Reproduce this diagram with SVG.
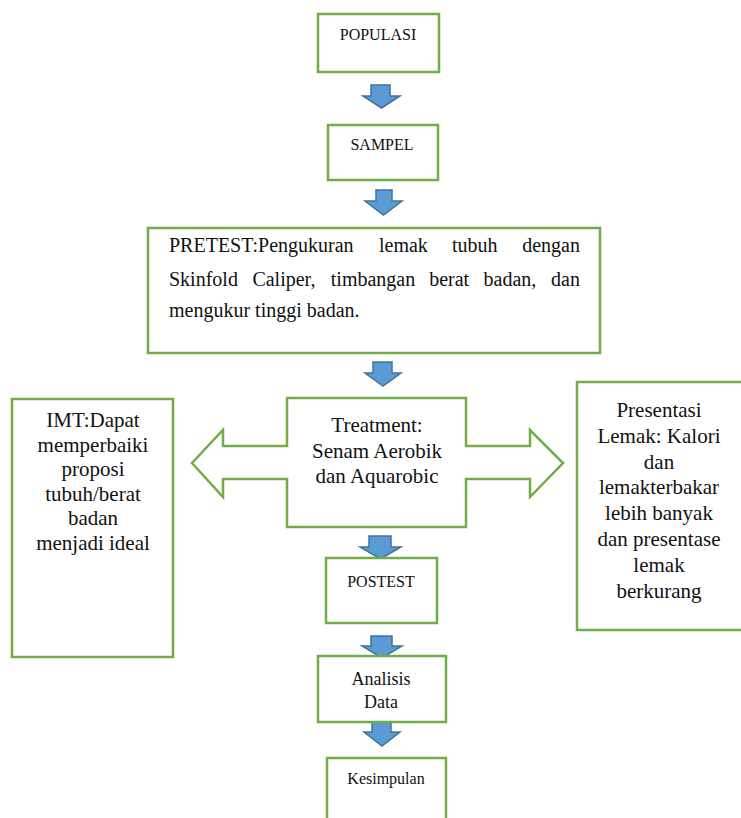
<svg xmlns="http://www.w3.org/2000/svg" width="741" height="818" viewBox="0 0 741 818">
<style>
.box{fill:#fff;stroke:#70AD47;stroke-width:2.5}
.arr{fill:#5B9BD5;stroke:#41719C;stroke-width:1.5;stroke-linejoin:miter}
text{font-family:'Liberation Serif','Times New Roman','DejaVu Serif',serif;fill:#111}
.c{text-anchor:middle}
.s{font-size:16px}
.m{font-size:18px}
.p{font-size:20px}
.l{font-size:21px}
</style>
<rect width="741" height="818" fill="#fff"/>
<g id="connectors">
<path class="arr" d="M371,85 H390 V96 H400 L381.5,108 L363,96 H371 Z"/>
<path class="arr" d="M376,190 H392 V201 H402 L383.5,215 L365,201 H376 Z"/>
<path class="arr" d="M373,362 H392 V373 H401 L383,386 L365,373 H373 Z"/>
<path class="arr" d="M369,536 H391 V547 H401 L380.5,559 L360,547 H369 Z"/>
<path class="arr" d="M371,636 H392 V646 H402 L382,658 L362,646 H371 Z"/>
<path class="arr" d="M372,722 H391 V732 H400 L382,746 L364,732 H372 Z"/>
</g>
<g id="populasi">
<rect class="box" x="318" y="14" width="121" height="58"/>
<text class="c s" x="378" y="40">POPULASI</text>
</g>
<g id="sampel">
<rect class="box" x="328" y="125" width="110" height="55"/>
<text class="c s" x="382" y="150">SAMPEL</text>
</g>
<g id="pretest">
<rect class="box" x="148" y="228" width="452" height="125"/>
<text class="p" y="252"><tspan x="169">PRETEST:Pengukuran</tspan><tspan x="379">lemak</tspan><tspan x="452">tubuh</tspan><tspan x="580" text-anchor="end">dengan</tspan></text>
<text class="p" y="286"><tspan x="169">Skinfold</tspan><tspan x="252.4">Caliper,</tspan><tspan x="330.8">timbangan</tspan><tspan x="429.2">berat</tspan><tspan x="483.6">badan,</tspan><tspan x="580" text-anchor="end">dan</tspan></text>
<text class="p" y="317"><tspan x="169">mengukur tinggi badan.</tspan></text>
</g>
<g id="treatment">
<path class="box" d="M287,398 H466 V446 H530 V430 L563,463 L530,497 V479 H466 V527 H287 V479 H223 V497 L192,463 L223,430 V446 H287 Z"/>
<text class="c l" x="377" y="432">Treatment:</text>
<text class="c l" x="377" y="458">Senam Aerobik</text>
<text class="c l" x="377" y="483">dan Aquarobic</text>
</g>
<g id="imt">
<rect class="box" x="12" y="399" width="161" height="258"/>
<text class="c l" x="93" y="427">IMT:Dapat</text>
<text class="c l" x="93" y="452">memperbaiki</text>
<text class="c l" x="93" y="476">proposi</text>
<text class="c l" x="93" y="501">tubuh/berat</text>
<text class="c l" x="93" y="525">badan</text>
<text class="c l" x="93" y="550">menjadi ideal</text>
</g>
<g id="presentasi">
<rect class="box" x="577" y="382" width="168" height="248"/>
<text class="c l" x="659" y="417">Presentasi</text>
<text class="c l" x="659" y="443">Lemak: Kalori</text>
<text class="c l" x="659" y="469">dan</text>
<text class="c l" x="659" y="494">lemakterbakar</text>
<text class="c l" x="659" y="520">lebih banyak</text>
<text class="c l" x="659" y="546">dan presentase</text>
<text class="c l" x="659" y="572">lemak</text>
<text class="c l" x="659" y="598">berkurang</text>
</g>
<g id="postest">
<rect class="box" x="326" y="558" width="111" height="65"/>
<text class="c s" x="381" y="587">POSTEST</text>
</g>
<g id="analisis">
<rect class="box" x="318" y="656" width="128" height="66"/>
<text class="c m" x="381" y="685">Analisis</text>
<text class="c m" x="381" y="708">Data</text>
</g>
<g id="kesimpulan">
<rect class="box" x="327" y="758" width="119" height="64"/>
<text class="c s" x="386" y="784">Kesimpulan</text>
</g>
</svg>
